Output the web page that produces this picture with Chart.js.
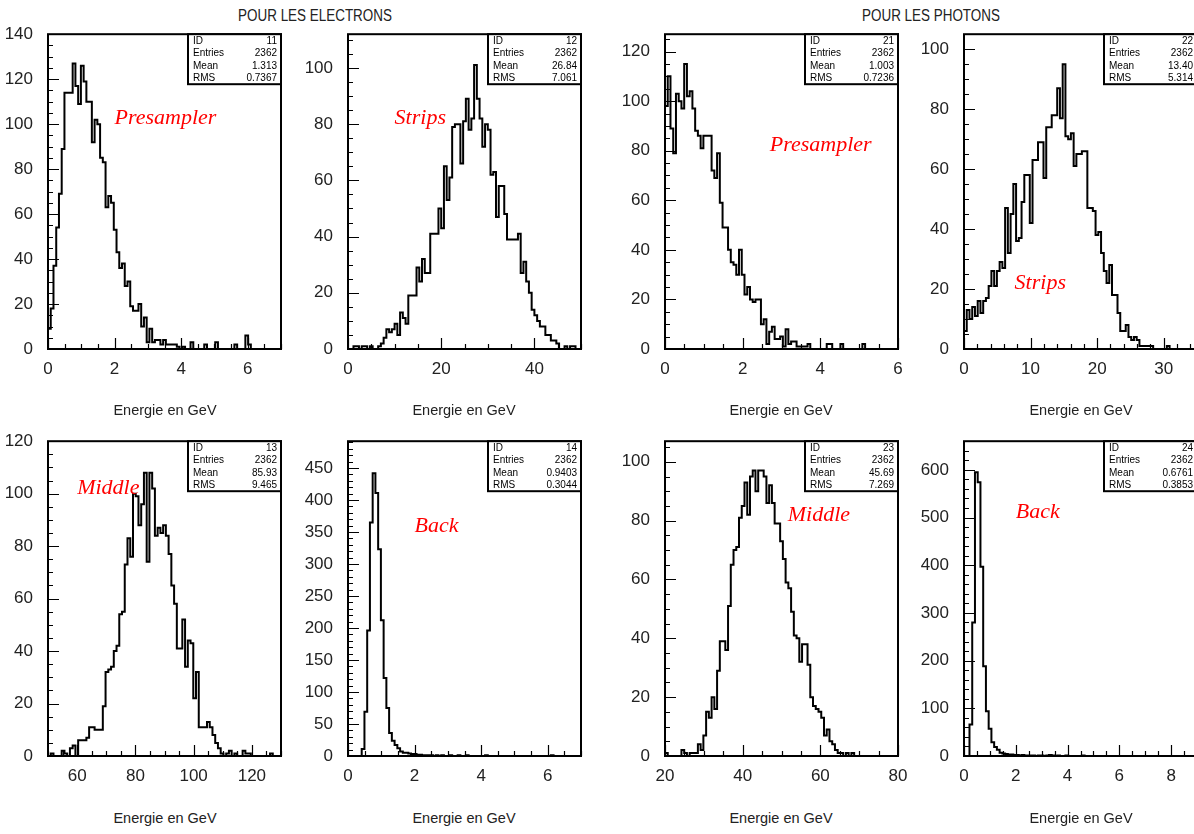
<!DOCTYPE html>
<html>
<head>
<meta charset="utf-8">
<script src="https://cdn.jsdelivr.net/npm/chart.js@4.4.1/dist/chart.umd.min.js"></script>
<style>
  html, body { margin: 0; padding: 0; background: #fff; }
  body { width: 1194px; height: 834px; overflow: hidden; position: relative; font-family: 'Liberation Sans', Arial, sans-serif; }
  .panel { position: absolute; width: 301px; height: 370px; }
  .txt { position: absolute; transform: translate(-50%, -50%); white-space: nowrap; color: #222; }
  .head { font-size: 16px; transform: translate(-50%, -50%) scaleX(0.84); }
  .xlab { font-size: 14.5px; }
</style>
</head>
<body>
<div class="txt head" style="left:315px;top:16px">POUR LES ELECTRONS</div>
<div class="txt head" style="left:931px;top:16px">POUR LES PHOTONS</div>

<div class="panel" style="left:0px;top:9px"><canvas id="c1"></canvas></div>
<div class="panel" style="left:300px;top:9px"><canvas id="c2"></canvas></div>
<div class="panel" style="left:617px;top:9px"><canvas id="c3"></canvas></div>
<div class="panel" style="left:916px;top:9px"><canvas id="c4"></canvas></div>
<div class="panel" style="left:0px;top:416px"><canvas id="c5"></canvas></div>
<div class="panel" style="left:300px;top:416px"><canvas id="c6"></canvas></div>
<div class="panel" style="left:617px;top:416px"><canvas id="c7"></canvas></div>
<div class="panel" style="left:916px;top:416px"><canvas id="c8"></canvas></div>

<div class="txt xlab" style="left:165px;top:410px">Energie en GeV</div>
<div class="txt xlab" style="left:464px;top:410px">Energie en GeV</div>
<div class="txt xlab" style="left:781px;top:410px">Energie en GeV</div>
<div class="txt xlab" style="left:1081px;top:410px">Energie en GeV</div>
<div class="txt xlab" style="left:165px;top:818px">Energie en GeV</div>
<div class="txt xlab" style="left:464px;top:818px">Energie en GeV</div>
<div class="txt xlab" style="left:781px;top:818px">Energie en GeV</div>
<div class="txt xlab" style="left:1081px;top:818px">Energie en GeV</div>

<script>
// bin contents (85 bins each)
const presElec = [9,18,37,54,69,89,114,114,114,127, 117,109,126,119,110,110,92,102,100,85,
  83,63,68,65,53,43,36,38,28,30, 19,17,17,20,10,14,3,9,3,4, 4,2,4,2,2,2,2,1,0,1,
  0,0,3,0,0,0,0,2,0,0, 0,3,0,0,0,0,0,0,2,0, 0,0,6,2,0,0,0,0,0,0, 0,0,0,0,0];
const stripsElec = [0,0,1,1,0,1,1,0,1,0, 0,1,2,4,7,6,7,9,5,13, 11,9,19,19,19,29,24,32,27,27,
  41,41,41,50,43,65,53,61,79,80, 80,66,81,89,78,82,101,89,82,72, 80,78,62,63,47,58,58,48,39,39,
  39,39,41,27,31,24,20,14,12,10, 8,8,5,5,3,3,2,0,0,1, 0,1,1,0,0];
const middleElec = [0,1,0,0,0,2,1,0,3,4, 0,6,6,6,7,11,11,10,10,10, 19,32,33,34,40,42,54,55,73,83,
  76,100,99,88,96,108,74,108,102,84, 87,85,88,84,77,65,58,41,41,52, 34,44,43,22,32,11,11,11,13,11,
  8,5,3,1,0,1,2,0,1,0, 0,2,1,1,0,0,0,0,0,0, 0,1,0,0,0];
const backElec = [0,0,0,0,0,11,69,196,365,442, 411,323,212,122,75,36,24,17,12,7, 5,5,4,3,3,2,2,1,1,1,
  1,0,1,0,1,0,0,1,0,0, 1,0,0,1,0,0,0,0,0,0, 1,0,0,0,0,0,0,0,0,0,
  0,0,0,0,0,0,0,0,0,0, 0,0,0,0,1,0,0,0,0,0, 0,0,0,0,0];
const presPhot = [98,110,89,79,103,100,97,115,102,104, 97,88,86,81,86,86,86,72,69,79,
  59,49,49,40,35,34,30,40,30,22, 25,20,19,20,20,10,12,2,7,9, 4,4,5,1,8,2,3,3,1,1,
  1,1,2,0,0,0,0,0,0,2, 2,0,0,0,2,0,0,0,0,0, 0,0,2,0,0,0,0,0,0,0, 0,0,0,0,0];
const stripsPhot = [6,13,10,14,11,16,12,16,17,21, 26,21,26,29,27,47,32,45,55,36,
  37,49,58,58,42,63,63,69,69,57, 74,74,78,78,87,77,95,71,70,72, 61,65,65,66,66,47,47,46,38,39,
  32,26,22,28,18,18,12,6,6,8, 4,3,4,3,1,1,1,1,1,0, 0,0,0,0,1,0,0,0,0,0, 0,0,0,0,0];
const middlePhot = [1,0,0,0,0,0,2,1,0,1, 1,1,4,2,7,15,13,20,16,29, 39,39,36,51,65,70,71,81,85,93,
  82,95,97,90,97,97,95,86,92,86, 79,79,73,67,59,57,49,41,40,32, 38,38,31,20,17,16,15,13,7,9,
  5,4,2,1,1,0,1,0,1,0, 0,0,0,0,0,0,0,0,0,0, 0,0,0,0,0];
const backPhot = [0,0,66,280,595,574,397,188,94,57, 29,19,13,7,5,4,3,3,2,2, 1,2,1,1,1,1,0,1,1,0,
  1,2,1,0,1,0,0,1,0,0, 0,0,0,1,0,0,0,0,0,0, 0,0,0,0,0,0,0,0,0,0,
  0,0,0,0,0,0,0,0,0,0, 0,0,0,0,0,0,0,0,0,0, 0,0,0,0,0];

// axis ranges
const xLow  = [0, 0, 0, 0, 50, 0, 20, 0];
const xHigh = [7, 50, 6, 35, 130, 7, 80, 9];
const yHigh = [140, 112, 127, 105, 120, 492, 107, 660];

// labelled ticks and minor tick steps
const xTickLabels = [[0,2,4,6], [0,20,40], [0,2,4,6], [0,10,20,30], [60,80,100,120], [0,2,4,6], [20,40,60,80], [0,2,4,6,8]];
const yTickLabels = [
  [0,20,40,60,80,100,120,140], [0,20,40,60,80,100], [0,20,40,60,80,100,120], [0,20,40,60,80,100],
  [0,20,40,60,80,100,120], [0,50,100,150,200,250,300,350,400,450], [0,20,40,60,80,100], [0,100,200,300,400,500,600]
];
const xMinor = [0.5, 5, 0.5, 2, 5, 0.5, 5, 0.5];
const yMinor = [5, 5, 5, 5, 5, 10, 5, 20];

// statistics boxes
const histIds = ['11', '12', '21', '22', '13', '14', '23', '24'];
const entries = ['2362', '2362', '2362', '2362', '2362', '2362', '2362', '2362'];
const means = ['1.313', '26.84', '1.003', '13.40', '85.93', '0.9403', '45.69', '0.6761'];
const rmsVals = ['0.7367', '7.061', '0.7236', '5.314', '9.465', '0.3044', '7.269', '0.3853'];

// red captions and where they sit (data coordinates)
const captions = ['Presampler', 'Strips', 'Presampler', 'Strips', 'Middle', 'Back', 'Middle', 'Back'];
const captionAt = [[2.0, 100], [10, 80], [2.7, 80], [7.6, 20], [60, 100], [2.0, 350], [51.6, 80], [2.0, 500]];

const counts = [presElec, stripsElec, presPhot, stripsPhot, middleElec, backElec, middlePhot, backPhot];

function outline(c, lo, hi) {
  const w = (hi - lo) / c.length;
  const pts = [{ x: lo, y: 0 }];
  c.forEach((v, i) => {
    pts.push({ x: lo + i * w, y: v });
    pts.push({ x: lo + (i + 1) * w, y: v });
  });
  pts.push({ x: hi, y: 0 });
  return pts;
}

const hbook = {
  id: 'hbook',
  afterDraw(chart, args, o) {
    const { ctx, chartArea: a, scales: { x, y } } = chart;
    ctx.save();
    ctx.strokeStyle = '#000';
    ctx.lineWidth = 2;
    ctx.strokeRect(a.left, a.top, a.right - a.left, a.bottom - a.top);

    // inward ticks, left and bottom
    ctx.lineWidth = 1.2;
    ctx.beginPath();
    let n = Math.round((x.max - x.min) / o.minorX);
    for (let k = 0; k <= n; k++) {
      const v = x.min + k * o.minorX;
      const big = o.ticksX.some(t => Math.abs(t - v) < 1e-6);
      const px = Math.round(x.getPixelForValue(v)) + 0.5;
      ctx.moveTo(px, a.bottom);
      ctx.lineTo(px, a.bottom - (big ? 11 : 5));
    }
    n = Math.round((y.max - y.min) / o.minorY);
    for (let k = 0; k <= n; k++) {
      const v = y.min + k * o.minorY;
      if (v > y.max) break;
      const big = o.ticksY.some(t => Math.abs(t - v) < 1e-6);
      const py = Math.round(y.getPixelForValue(v)) + 0.5;
      ctx.moveTo(a.left, py);
      ctx.lineTo(a.left + (big ? 11 : 5), py);
    }
    ctx.stroke();

    // stats box
    const bw = 93, bh = 50, bx = a.right - bw, by = a.top;
    ctx.fillStyle = '#fff';
    ctx.fillRect(bx, by, bw, bh);
    ctx.lineWidth = 2;
    ctx.strokeRect(bx, by, bw, bh);
    ctx.fillStyle = '#000';
    ctx.font = "10px 'Liberation Sans', Arial, sans-serif";
    ctx.textBaseline = 'middle';
    o.stats.forEach((row, i) => {
      const ry = by + 7 + i * 12.3;
      ctx.textAlign = 'left';
      ctx.fillText(row[0], bx + 5, ry);
      ctx.textAlign = 'right';
      ctx.fillText(row[1], a.right - 4, ry);
    });

    // caption
    ctx.fillStyle = '#ff0000';
    ctx.font = "italic 22px 'Liberation Serif', 'Times New Roman', serif";
    ctx.textAlign = 'left';
    ctx.textBaseline = 'alphabetic';
    ctx.fillText(o.caption, x.getPixelForValue(o.captionAt[0]), y.getPixelForValue(o.captionAt[1]));
    ctx.restore();
  }
};

const tickFont = { family: "'Liberation Sans', Arial, sans-serif", size: 17 };

counts.forEach((c, i) => {
  const ctx = document.getElementById('c' + (i + 1)).getContext('2d');
  new Chart(ctx, {
    type: 'line',
    data: {
      datasets: [{
        data: outline(c, xLow[i], xHigh[i]),
        borderColor: '#000',
        borderWidth: 2,
        pointRadius: 0,
        tension: 0,
        fill: false,
        borderJoinStyle: 'miter'
      }]
    },
    options: {
      responsive: true,
      maintainAspectRatio: false,
      animation: false,
      events: [],
      layout: { padding: { top: 10, right: 20, left: 0, bottom: 0 } },
      plugins: {
        legend: { display: false },
        tooltip: { enabled: false },
        hbook: {
          minorX: xMinor[i], minorY: yMinor[i],
          ticksX: xTickLabels[i], ticksY: yTickLabels[i],
          stats: [['ID', histIds[i]], ['Entries', entries[i]], ['Mean', means[i]], ['RMS', rmsVals[i]]],
          caption: captions[i], captionAt: captionAt[i]
        }
      },
      scales: {
        x: {
          type: 'linear', min: xLow[i], max: xHigh[i],
          grid: { display: false, drawTicks: false }, border: { display: false },
          ticks: { autoSkip: false, maxRotation: 0, padding: 10, color: '#222', font: tickFont },
          afterBuildTicks: s => { s.ticks = xTickLabels[i].map(v => ({ value: v })); },
          afterFit: s => { s.height = 30; }
        },
        y: {
          type: 'linear', min: 0, max: yHigh[i],
          grid: { display: false, drawTicks: false }, border: { display: false },
          ticks: { autoSkip: false, padding: 15, color: '#222', font: tickFont },
          afterBuildTicks: s => { s.ticks = yTickLabels[i].map(v => ({ value: v })); },
          afterFit: s => { s.width = 48; }
        }
      }
    },
    plugins: [hbook]
  });
});
</script>
</body>
</html>
